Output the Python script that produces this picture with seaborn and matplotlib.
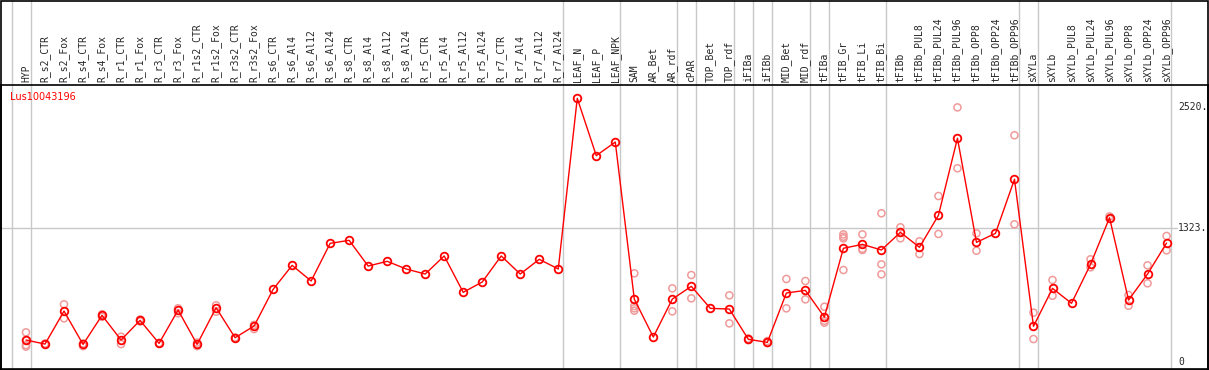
import numpy as np
import pandas as pd
import seaborn as sns
import matplotlib.pyplot as plt
from matplotlib.patches import Rectangle

# categories along the x axis
samples = [
    "HYP", "R_s2_CTR", "R_s2_Fox", "R_s4_CTR", "R_s4_Fox", "R_r1_CTR", "R_r1_Fox",
    "R_r3_CTR", "R_r3_Fox", "R_r1s2_CTR", "R_r1s2_Fox", "R_r3s2_CTR", "R_r3s2_Fox",
    "R_s6_CTR", "R_s6_Al4", "R_s6_Al12", "R_s6_Al24", "R_s8_CTR", "R_s8_Al4",
    "R_s8_Al12", "R_s8_Al24", "R_r5_CTR", "R_r5_Al4", "R_r5_Al12", "R_r5_Al24",
    "R_r7_CTR", "R_r7_Al4", "R_r7_Al12", "R_r7_Al24", "LEAF_N", "LEAF_P", "LEAF_NPK",
    "SAM", "AR_Bet", "AR_rdf", "cPAR", "TOP_Bet", "TOP_rdf", "iFIBa", "iFIBb",
    "MID_Bet", "MID_rdf", "tFIBa", "tFIB_Gr", "tFIB_Li", "tFIB_Bi", "tFIBb",
    "tFIBb_PUL8", "tFIBb_PUL24", "tFIBb_PUL96", "tFIBb_OPP8", "tFIBb_OPP24",
    "tFIBb_OPP96", "sXYLa", "sXYLb", "sXYLb_PUL8", "sXYLb_PUL24", "sXYLb_PUL96",
    "sXYLb_OPP8", "sXYLb_OPP24", "sXYLb_OPP96",
]

# mean expression per sample
means = [
    215, 175, 502, 172, 460, 215, 410, 182, 512, 172, 535, 238, 354,
    717, 955, 800, 1173, 1203, 948, 995, 919, 869, 1048, 688, 790,
    1048, 869, 1015, 919, 2610, 2042, 2177,
    621, 245, 621, 747, 529, 522, 222, 192, 681, 707, 443, 1124, 1163, 1107, 1282,
    1134, 1451, 2214, 1183, 1272, 1808, 351, 727, 579, 965, 1427, 611, 869, 1176,
]

# individual replicates per sample
replicates = [
    [291, 215, 165, 150], [180, 170], [569, 430], [180, 155], [470, 445],
    [248, 175], [418, 400], [185, 178], [529, 480], [190, 155], [559, 496],
    [240, 235], [365, 324],
    [], [], [], [], [], [], [], [], [], [], [], [], [], [], [], [],
    [], [], [],
    [876, 552, 529, 506], [], [727, 499], [859, 628], [], [658, 380],
    [230, 215], [205, 185], [820, 529], [800, 618], [545, 406, 387],
    [1262, 1239, 1222, 909], [1262, 1107, 1120], [1471, 965, 866], [1332, 1223],
    [1193, 1067], [1642, 1266], [2520, 1917], [1272, 1100], [], [2244, 1362],
    [486, 225], [810, 654], [], [1015, 936], [1440, 1415], [661, 555],
    [955, 777], [1246, 1104],
]

# group separators drawn after these sample indices
separators = [-1, 0, 28, 31, 34, 35, 37, 38, 39, 41, 42, 45, 52, 53, 60]
ytick_values = [0, 1323, 2520]
ytick_labels = ["0", "1323.", "2520."]
gene = "Lus10043196"

sns.set_style("white")
plt.rcParams["font.family"] = ["DejaVu Sans"]

mean_df = pd.DataFrame({"pos": np.arange(len(samples)), "value": means})
rep_df = pd.DataFrame(
    [(i, v) for i, reps in enumerate(replicates) for v in reps],
    columns=["pos", "value"],
)

W, H = 1209, 370
fig = plt.figure(figsize=(W / 100, H / 100), dpi=100)
ax = fig.add_axes([1 / W, 1 / H, 1207 / W, 284 / H])

sns.scatterplot(data=rep_df, x="pos", y="value", ax=ax, marker="o", s=26,
                facecolor="none", edgecolor="#f09a9a", linewidth=1.1, zorder=3)
sns.lineplot(data=mean_df, x="pos", y="value", ax=ax, color="red", linewidth=1,
             marker="o", markersize=5.5, markerfacecolor="none",
             markeredgecolor="red", markeredgewidth=1.3, zorder=4)

ax.set_xlim(-1.315, 62.18)
ax.set_ylim(-72, 2742)
ax.set_xticks([])
ax.set_yticks([])
ax.set_xlabel("")
ax.set_ylabel("")
for s in ax.spines.values():
    s.set_color("black")
    s.set_linewidth(1.2)

ax.axhline(1323, xmin=0, xmax=(1177 - 1) / 1207, color="#c8c8c8", lw=1, zorder=1)
for sep in separators:
    ax.axvline(sep + 0.25, ymin=0, ymax=1 + 85 / 284, color="#c8c8c8", lw=1,
               clip_on=False, zorder=1)

# value labels on the right, left edge at pixel 1178
for v, lab in zip(ytick_values, ytick_labels):
    ax.text((1178 - 1) / 1207, v, lab, transform=ax.get_yaxis_transform(),
            ha="left", va="center", fontsize=7, family="DejaVu Sans Mono")

for i, name in enumerate(samples):
    ax.text(i, 1 + 3 / 284, name, transform=ax.get_xaxis_transform(),
            rotation=90, ha="center", va="bottom", fontsize=7,
            family="DejaVu Sans Mono", clip_on=False)

ax.text(9 / 1207, 1 - 12 / 284, gene, transform=ax.transAxes, color="red",
        fontsize=7, ha="left", va="center")

fig.patches.append(Rectangle((0.5 / W, 0.5 / H), 1 - 1.5 / W, 1 - 1.5 / H,
                             transform=fig.transFigure, fill=False,
                             edgecolor="black", linewidth=1.2))

fig.savefig("out.png", dpi=100)
